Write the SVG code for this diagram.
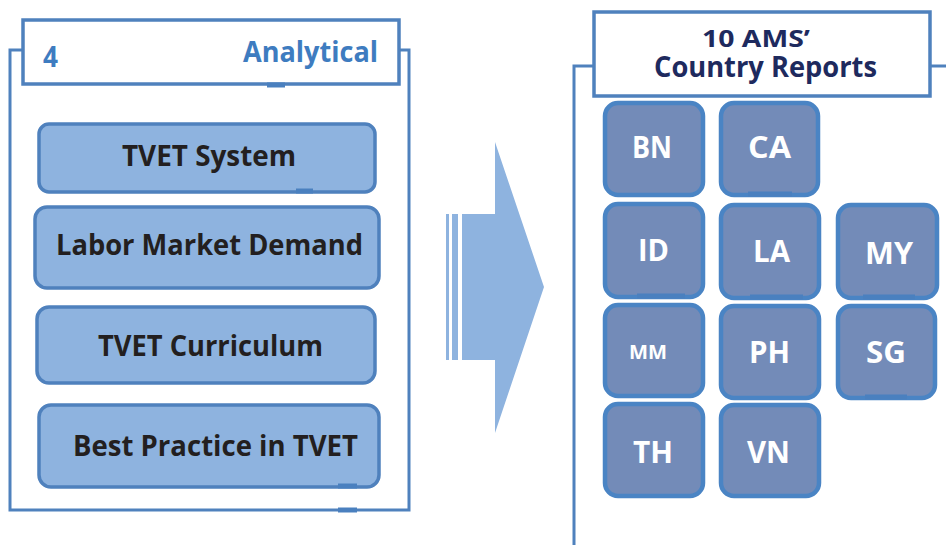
<svg xmlns="http://www.w3.org/2000/svg" width="946" height="545" viewBox="0 0 946 545">
  <style>
    .frame { fill: none; stroke: #4F81BD; stroke-width: 3; }
    .head { fill: #FFFFFF; stroke: #4F81BD; stroke-width: 3.5; }
    .topic { fill: #8EB3DF; stroke: #4F81BD; stroke-width: 3.5; }
    .country { fill: #738BB8; stroke: #4A84C4; stroke-width: 4.5; }
    .tab { stroke: #4A80BF; stroke-width: 5; }
    text { font-family: "Open Sans", "Liberation Sans", sans-serif; font-weight: bold; }
    .blue { fill: #3E7CC0; font-size: 29px; }
    .dark { fill: #231F20; font-size: 29px; }
    .navy { fill: #1E2A5E; font-size: 29px; }
    .navy-sm { fill: #1E2A5E; font-size: 24px; }
    .code { fill: #FFFFFF; font-size: 31px; }
    .arrow { fill: #8EB3DF; }
  </style>

  <!-- left panel: analytical topics -->
  <g id="analytical-panel">
    <path class="frame" d="M25,50 H10 V510 H409 V50 H399"/>
    <rect class="head" x="23" y="20" width="376" height="64"/>
    <line class="tab" x1="267" y1="85" x2="285" y2="85"/>
    <line class="tab" x1="338" y1="510" x2="357" y2="510"/>
    <text class="blue" x="43" y="67" textLength="15" lengthAdjust="spacingAndGlyphs">4</text>
    <text class="blue" x="243" y="62" textLength="135" lengthAdjust="spacingAndGlyphs">Analytical</text>
  </g>

  <g id="tvet-system">
    <rect class="topic" x="39" y="124" width="336" height="68" rx="10"/>
    <line class="tab" x1="296" y1="191" x2="313" y2="191"/>
    <text class="dark" x="122" y="166" textLength="174" lengthAdjust="spacingAndGlyphs">TVET System</text>
  </g>
  <g id="labor-market-demand">
    <rect class="topic" x="35" y="207" width="344" height="81" rx="12"/>
    <text class="dark" x="56" y="255" textLength="307" lengthAdjust="spacingAndGlyphs">Labor Market Demand</text>
  </g>
  <g id="tvet-curriculum">
    <rect class="topic" x="37" y="307" width="338" height="76" rx="12"/>
    <text class="dark" x="98" y="356" textLength="225" lengthAdjust="spacingAndGlyphs">TVET Curriculum</text>
  </g>
  <g id="best-practice">
    <rect class="topic" x="39" y="405" width="340" height="82" rx="12"/>
    <line class="tab" x1="338" y1="486" x2="357" y2="486"/>
    <text class="dark" x="73" y="456" textLength="285" lengthAdjust="spacingAndGlyphs">Best Practice in TVET</text>
  </g>

  <!-- striped block arrow between panels -->
  <g id="connectors">
    <rect class="arrow" x="446" y="214" width="3" height="146"/>
    <rect class="arrow" x="452" y="214" width="6" height="146"/>
    <polygon class="arrow" points="462,214 495,214 495,142 544,287 495,433 495,360 462,360"/>
  </g>

  <!-- right panel: country reports -->
  <g id="country-panel">
    <path class="frame" d="M594,66 H574 V545"/>
    <path class="frame" d="M930,66 H946"/>
    <rect class="head" x="594" y="12" width="336" height="84"/>
    <text class="navy-sm" x="702" y="47" textLength="108" lengthAdjust="spacingAndGlyphs">10 AMS’</text>
    <text class="navy" x="654" y="77" textLength="223" lengthAdjust="spacingAndGlyphs">Country Reports</text>
  </g>

  <g id="bn">
    <rect class="country" x="605" y="103" width="98" height="92" rx="13"/>
    <text class="code" x="632" y="158" textLength="40" lengthAdjust="spacingAndGlyphs">BN</text>
  </g>
  <g id="ca">
    <rect class="country" x="721" y="103" width="97" height="92" rx="13"/>
    <line class="tab" x1="748" y1="194" x2="792" y2="194"/>
    <text class="code" x="748" y="158" textLength="43" lengthAdjust="spacingAndGlyphs">CA</text>
  </g>
  <g id="id">
    <rect class="country" x="605" y="204" width="98" height="93" rx="13"/>
    <line class="tab" x1="637" y1="296" x2="685" y2="296"/>
    <text class="code" x="638" y="261" textLength="31" lengthAdjust="spacingAndGlyphs">ID</text>
  </g>
  <g id="la">
    <rect class="country" x="721" y="205" width="98" height="93" rx="13"/>
    <line class="tab" x1="750" y1="297" x2="803" y2="297"/>
    <text class="code" x="753" y="262" textLength="37" lengthAdjust="spacingAndGlyphs">LA</text>
  </g>
  <g id="my">
    <rect class="country" x="838" y="205" width="99" height="93" rx="13"/>
    <line class="tab" x1="863" y1="297" x2="915" y2="297"/>
    <text class="code" x="865" y="264" textLength="48" lengthAdjust="spacingAndGlyphs">MY</text>
  </g>
  <g id="mm">
    <rect class="country" x="605" y="305" width="98" height="91" rx="13"/>
    <text class="code" x="629" y="359" style="font-size:20px" textLength="38" lengthAdjust="spacingAndGlyphs">MM</text>
  </g>
  <g id="ph">
    <rect class="country" x="721" y="306" width="98" height="92" rx="13"/>
    <text class="code" x="749" y="363" textLength="41" lengthAdjust="spacingAndGlyphs">PH</text>
  </g>
  <g id="sg">
    <rect class="country" x="838" y="306" width="97" height="92" rx="13"/>
    <line class="tab" x1="865" y1="397" x2="907" y2="397"/>
    <text class="code" x="866" y="363" textLength="40" lengthAdjust="spacingAndGlyphs">SG</text>
  </g>
  <g id="th">
    <rect class="country" x="605" y="404" width="98" height="92" rx="13"/>
    <text class="code" x="633" y="463" textLength="40" lengthAdjust="spacingAndGlyphs">TH</text>
  </g>
  <g id="vn">
    <rect class="country" x="721" y="405" width="98" height="91" rx="13"/>
    <text class="code" x="747" y="463" textLength="43" lengthAdjust="spacingAndGlyphs">VN</text>
  </g>
</svg>
